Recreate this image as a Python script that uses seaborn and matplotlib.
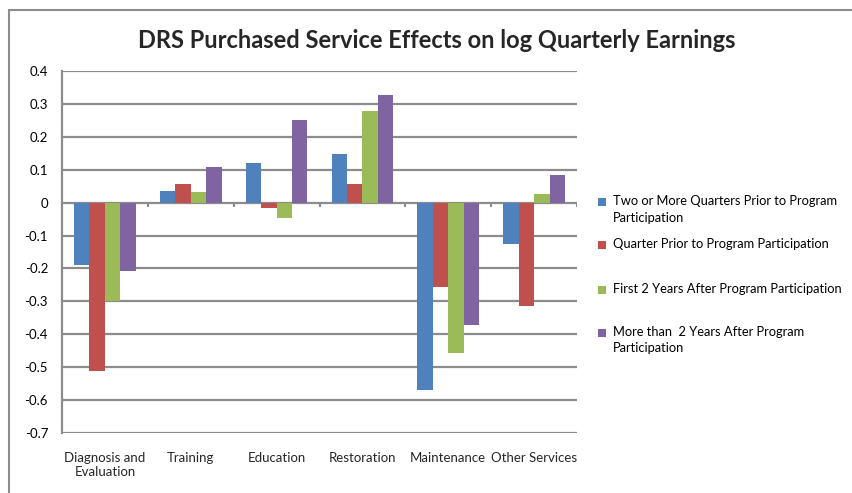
import matplotlib
matplotlib.use("Agg")
import matplotlib.pyplot as plt
import seaborn as sns
import pandas as pd
import numpy as np
from matplotlib.patches import Rectangle
from matplotlib.lines import Line2D

categories = ["Diagnosis and\nEvaluation", "Training", "Education", "Restoration",
              "Maintenance", "Other Services"]
series_names = ["Two or More Quarters Prior to Program\nParticipation",
                "Quarter Prior to Program Participation",
                "First 2 Years After Program Participation",
                "More than  2 Years After Program\nParticipation"]
two_or_more_prior = [-0.188, 0.035, 0.120, 0.147, -0.570, -0.127]
quarter_prior = [-0.512, 0.058, -0.015, 0.057, -0.255, -0.315]
first_2_years = [-0.300, 0.032, -0.048, 0.278, -0.458, 0.025]
more_than_2_years = [-0.208, 0.107, 0.250, 0.326, -0.372, 0.084]
y_ticks = [0.4, 0.3, 0.2, 0.1, 0, -0.1, -0.2, -0.3, -0.4, -0.5, -0.6, -0.7]
colors = ["#4F81BD", "#C0504D", "#9BBB59", "#8064A2"]

rows = []
for name, vals in zip(series_names, [two_or_more_prior, quarter_prior, first_2_years, more_than_2_years]):
    for c, v in zip(categories, vals):
        rows.append({"Category": c, "Series": name, "Value": v})
df = pd.DataFrame(rows)

sns.set_theme(style="white")
plt.rcParams["font.family"] = ["Lato", "DejaVu Sans"]

W, H = 852, 493
fig = plt.figure(figsize=(W/100, H/100), dpi=100)
ax = fig.add_axes([62/W, 1-433/H, (577-62)/W, (433-71)/H])

sns.barplot(data=df, x="Category", y="Value", hue="Series", order=categories,
            hue_order=series_names, palette=colors, width=0.72, ax=ax,
            saturation=1, edgecolor="none", errorbar=None, legend=False)

ax.set_ylim(-0.7, 0.4)
ax.set_xlim(-0.5, len(categories) - 0.5)
ax.set_yticks(y_ticks)
ax.set_yticklabels(["0" if t == 0 else f"{t:g}" for t in y_ticks], fontsize=9.5, color="black")
ax.yaxis.grid(True, color="#8c8c8c", linewidth=1.6)
ax.set_axisbelow(True)
for s in ["top", "right", "bottom"]:
    ax.spines[s].set_visible(False)
ax.spines["left"].set_color("#8c8c8c")
ax.spines["left"].set_linewidth(1.6)
ax.tick_params(axis="y", length=4, color="#8c8c8c", width=1.2, pad=6)
ax.tick_params(axis="x", length=0, pad=14, labelsize=9.5)
ax.set_xlabel("")
ax.set_ylabel("")

# category boundary tick marks on the zero line
bounds = np.arange(len(categories)) + 0.5
ax.vlines(bounds, -0.012, 0, color="#8c8c8c", linewidth=1.5, zorder=1)

# legend (Excel-style: equal slots, marker aligned with first line)
leg_y = [202, 245, 290, 333]
for name, col, y in zip(series_names, colors, leg_y):
    fig.patches.append(Rectangle((598/W, 1-(y+4)/H), 8/W, 8/H, transform=fig.transFigure,
                                 facecolor=col, edgecolor="none"))
    fig.text(613/W, 1-(y-7)/H, name, ha="left", va="top", fontsize=9.3,
             linespacing=1.45, color="black")

fig.text(437/W, 1-40/H, "DRS Purchased Service Effects on log Quarterly Earnings",
         ha="center", va="center", fontsize=17, fontweight="bold")

# chart frame (top and left edges visible)
fig.lines.append(Line2D([9/W, 1], [1-10/H, 1-10/H], transform=fig.transFigure,
                        color="#8c8c8c", linewidth=1.5))
fig.lines.append(Line2D([9/W, 9/W], [1-10/H, 0], transform=fig.transFigure,
                        color="#8c8c8c", linewidth=1.5))

fig.savefig("out.png", dpi=100)
